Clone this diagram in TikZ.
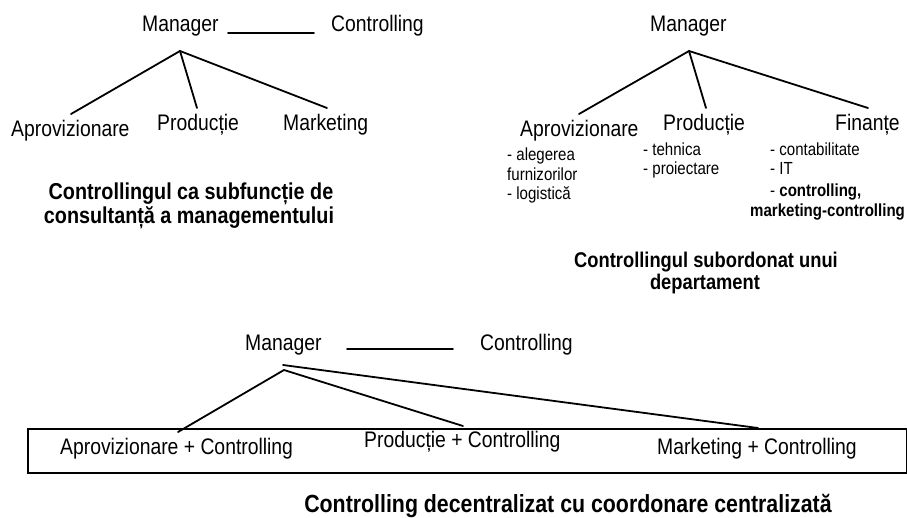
\documentclass[tikz,border=0pt]{standalone}
\usepackage{fontspec}
\setmainfont{Liberation Sans}[FakeStretch=0.86]
\begin{document}
\begin{tikzpicture}[x=1pt,y=-1pt,
  lbl/.style={inner sep=0pt, anchor=base west, font=\fontsize{22.5}{26}\selectfont},
  sub/.style={inner sep=0pt, anchor=base west, font=\fontsize{17.5}{20}\selectfont},
  capt/.style={inner sep=0pt, anchor=base, font=\bfseries\fontsize{23}{26}\selectfont},
  conn/.style={line width=1.8pt, line cap=round}]
\useasboundingbox (0,0) rectangle (907,517);

% ---------- top left ----------
\node[lbl] (m1) at (142,31) {Manager};
\node[lbl] (c1) at (331,31) {Controlling};
\coordinate (l1a) at (228,33);
\coordinate (l1b) at (314,33);
\draw[conn] (l1a) -- (l1b);
\coordinate (a1) at (180,51);
\node[lbl] (ap1) at (11,136) {Aprovizionare};
\node[lbl] (pr1) at (157,130) {Producție};
\node[lbl] (mk1) at (283,130) {Marketing};
\coordinate (e1a) at (71,114);
\coordinate (e1b) at (197,108);
\coordinate (e1c) at (327,108);
\draw[conn] (a1) -- (e1a);
\draw[conn] (a1) -- (e1b);
\draw[conn] (a1) -- (e1c);
\node[capt] (t1a) at (191,199) {Controllingul ca subfuncție de};
\node[capt] (t1b) at (189,223) {consultanță a managementului};

% ---------- top right ----------
\node[lbl] (m2) at (650,31) {Manager};
\coordinate (a2) at (689,51);
\node[lbl] (ap2) at (520,136) {Aprovizionare};
\node[lbl] (pr2) at (663,130) {Producție};
\node[lbl] (fi2) at (835,130) {Finanțe};
\coordinate (e2a) at (579,114);
\coordinate (e2b) at (706,108);
\coordinate (e2c) at (868,108);
\draw[conn] (a2) -- (e2a);
\draw[conn] (a2) -- (e2b);
\draw[conn] (a2) -- (e2c);
\node[sub] (s1) at (507,160) {- alegerea};
\node[sub] (s2) at (507,180) {furnizorilor};
\node[sub] (s3) at (507,199) {- logistică};
\node[sub] (s4) at (643,155) {- tehnica};
\node[sub] (s5) at (643,174) {- proiectare};
\node[sub] (s6) at (770,155) {- contabilitate};
\node[sub] (s7) at (770,174) {- IT};
\node[sub] (s8) at (770,196) {- \textbf{controlling,}};
\node[sub] (s9) at (750,216) {\textbf{marketing-controlling}};
\node[capt, font=\bfseries\fontsize{21.3}{24}\selectfont] (t2a) at (706,267) {Controllingul subordonat unui};
\node[capt, font=\bfseries\fontsize{21.3}{24}\selectfont] (t2b) at (705,289) {departament};

% ---------- bottom ----------
\node[lbl] (m3) at (245,350) {Manager};
\node[lbl] (c3) at (480,350) {Controlling};
\coordinate (l3a) at (347,349);
\coordinate (l3b) at (453,349);
\draw[conn] (l3a) -- (l3b);
\node[draw, line width=1.5pt, inner sep=0pt, minimum width=879pt, minimum height=44pt, anchor=north west] (box) at (27,428) {};
\node[lbl] (ap3) at (60,454) {Aprovizionare + Controlling};
\node[lbl] (pr3) at (364,447) {Producție + Controlling};
\node[lbl] (mk3) at (657,454) {Marketing + Controlling};
\coordinate (a3u) at (283,365);
\coordinate (a3l) at (284,370);
\coordinate (e3a) at (178,432);
\coordinate (e3b) at (463,426);
\coordinate (e3c) at (758,428);
\draw[conn] (e3a) -- (a3l) -- (e3b);
\draw[conn] (a3u) -- (e3c);
\node[capt, font=\bfseries\fontsize{24.8}{28}\selectfont] (t3) at (568,512) {Controlling decentralizat cu coordonare centralizată};
\end{tikzpicture}
\end{document}
